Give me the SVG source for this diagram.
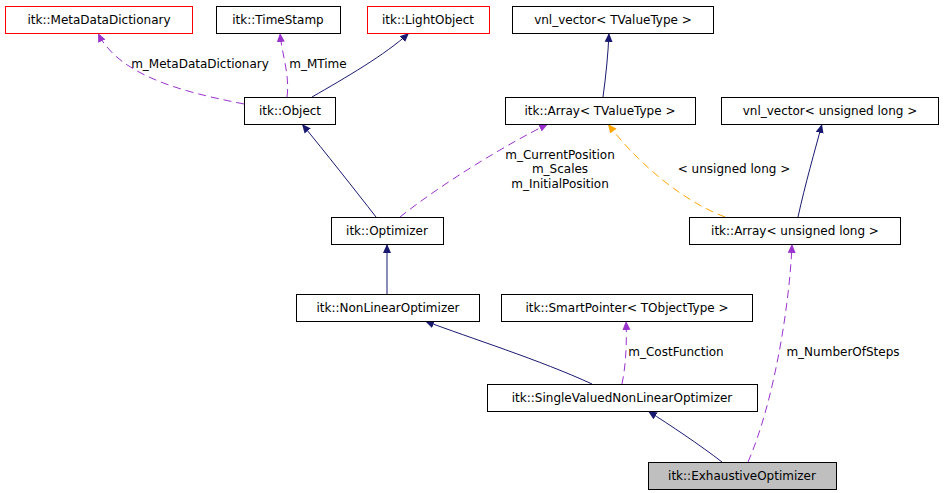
<svg xmlns="http://www.w3.org/2000/svg" width="944" height="493" viewBox="0 0 944 493">
<style>
text{font-family:"DejaVu Sans",sans-serif;font-size:12px;fill:#000}
.n rect{fill:#fff;stroke:#000;stroke-width:1}
.r rect{stroke:#f00}
.g rect{fill:#bfbfbf}
.s{fill:none;stroke:#191970;stroke-width:1}
.d{fill:none;stroke:#9a32cd;stroke-width:1;stroke-dasharray:8,5}
.o{fill:none;stroke:#ffa500;stroke-width:1;stroke-dasharray:8,5}
</style>
<defs>
<marker id="ms" markerWidth="10" markerHeight="10" refX="9" refY="5" orient="auto" markerUnits="userSpaceOnUse"><path d="M0,1L9,5L0,9Z" fill="#191970"/></marker>
<marker id="md" markerWidth="10" markerHeight="10" refX="9" refY="5" orient="auto" markerUnits="userSpaceOnUse"><path d="M0,1L9,5L0,9Z" fill="#9a32cd"/></marker>
<marker id="mo" markerWidth="10" markerHeight="10" refX="9" refY="5" orient="auto" markerUnits="userSpaceOnUse"><path d="M0,1L9,5L0,9Z" fill="#ffa500"/></marker>
</defs>
<rect width="944" height="493" fill="#fff"/>
<g id="edges">
<path class="d" marker-end="url(#md)" d="M244,104C200,95 120,80 98,33"/>
<path class="d" marker-end="url(#md)" d="M287,97C290,75 282,55 280,33"/>
<path class="s" marker-end="url(#ms)" d="M312,97C345,78 385,55 409,33"/>
<path class="s" marker-end="url(#ms)" d="M603,97C606,75 608,55 609,33"/>
<path class="s" marker-end="url(#ms)" d="M376,217C355,190 325,152 302,124"/>
<path class="d" marker-end="url(#md)" d="M400,217C440,185 505,145 548,124"/>
<path class="o" marker-end="url(#mo)" d="M725,217C680,200 635,160 608,124"/>
<path class="s" marker-end="url(#ms)" d="M798,217C805,185 815,150 822,124"/>
<path class="s" marker-end="url(#ms)" d="M387,294L387,244"/>
<path class="s" marker-end="url(#ms)" d="M592,384C540,360 470,338 425,321"/>
<path class="d" marker-end="url(#md)" d="M622,384C626,365 627,340 626,321"/>
<path class="s" marker-end="url(#ms)" d="M722,462C700,445 670,425 648,411"/>
<path class="d" marker-end="url(#md)" d="M748,462C775,400 790,300 792,244"/>
<text x="200" y="68" text-anchor="middle">m_MetaDataDictionary</text>
<text x="318" y="68" text-anchor="middle">m_MTime</text>
<text x="560" y="159" text-anchor="middle">m_CurrentPosition</text>
<text x="560" y="173" text-anchor="middle">m_Scales</text>
<text x="560" y="188" text-anchor="middle">m_InitialPosition</text>
<text x="734" y="173" text-anchor="middle">&lt; unsigned long &gt;</text>
<text x="676" y="356" text-anchor="middle">m_CostFunction</text>
<text x="843" y="356" text-anchor="middle">m_NumberOfSteps</text>
</g>
<g id="n1" class="n r"><rect x="5.5" y="6.5" width="187" height="27"/><text x="99" y="24" text-anchor="middle">itk::MetaDataDictionary</text></g>
<g id="n2" class="n"><rect x="216.5" y="6.5" width="124" height="27"/><text x="278" y="24" text-anchor="middle">itk::TimeStamp</text></g>
<g id="n3" class="n r"><rect x="367.5" y="6.5" width="122" height="27"/><text x="428" y="24" text-anchor="middle">itk::LightObject</text></g>
<g id="n4" class="n"><rect x="512.5" y="6.5" width="201" height="27"/><text x="613" y="24" text-anchor="middle">vnl_vector&lt; TValueType &gt;</text></g>
<g id="n5" class="n"><rect x="244.5" y="97.5" width="91" height="27"/><text x="290" y="115" text-anchor="middle">itk::Object</text></g>
<g id="n6" class="n"><rect x="505.5" y="97.5" width="190" height="27"/><text x="600" y="115" text-anchor="middle">itk::Array&lt; TValueType &gt;</text></g>
<g id="n7" class="n"><rect x="721.5" y="97.5" width="217" height="27"/><text x="830" y="115" text-anchor="middle">vnl_vector&lt; unsigned long &gt;</text></g>
<g id="n8" class="n"><rect x="331.5" y="217.5" width="112" height="27"/><text x="387" y="235" text-anchor="middle">itk::Optimizer</text></g>
<g id="n9" class="n"><rect x="689.5" y="217.5" width="211" height="27"/><text x="795" y="235" text-anchor="middle">itk::Array&lt; unsigned long &gt;</text></g>
<g id="n10" class="n"><rect x="296.5" y="294.5" width="183" height="27"/><text x="388" y="312" text-anchor="middle">itk::NonLinearOptimizer</text></g>
<g id="n11" class="n"><rect x="501.5" y="294.5" width="251" height="27"/><text x="627" y="312" text-anchor="middle">itk::SmartPointer&lt; TObjectType &gt;</text></g>
<g id="n12" class="n"><rect x="487.5" y="384.5" width="270" height="27"/><text x="622" y="402" text-anchor="middle">itk::SingleValuedNonLinearOptimizer</text></g>
<g id="n13" class="n g"><rect x="648.5" y="462.5" width="188" height="27"/><text x="742" y="480" text-anchor="middle">itk::ExhaustiveOptimizer</text></g>
</svg>
